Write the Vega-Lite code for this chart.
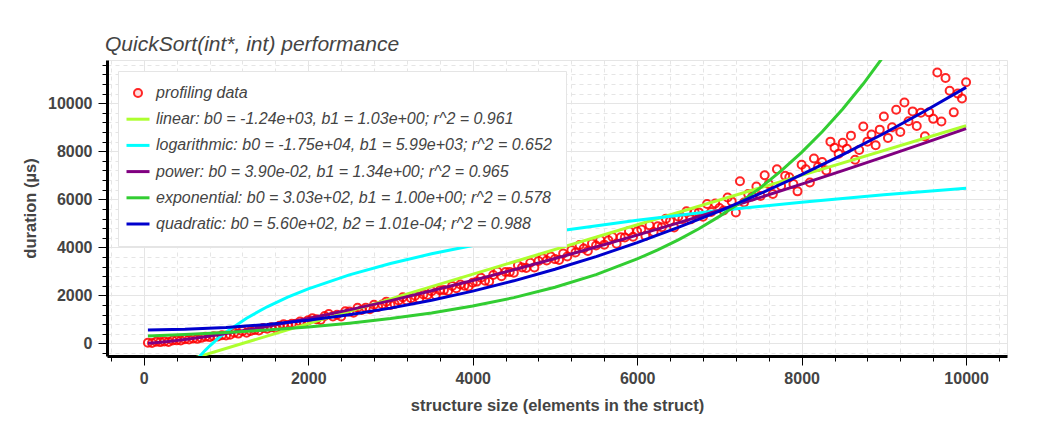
{
"$schema": "https://vega.github.io/schema/vega-lite/v6.json",
"width": 900, "height": 296,
"autosize": {"type": "none"},
"padding": {"left": 107, "top": 60, "right": 31, "bottom": 65},
"background": "white",
"config": {"view": {"stroke": "#e5e5e5", "strokeWidth": 1}, "font": "Liberation Sans"},
"title": {"text": "QuickSort(int*, int) performance", "anchor": "start", "frame": "group", "offset": 9, "dy": 24, "baseline": "alphabetic", "fontSize": 21, "fontStyle": "italic", "fontWeight": "normal", "color": "#444444", "font": "Liberation Sans", "dx": -2},
"datasets": {
"pts": [
{"x":50,"y":24},{"x":100,"y":15},{"x":150,"y":69},{"x":200,"y":54},{"x":250,"y":78},{"x":300,"y":63},{"x":350,"y":123},{"x":400,"y":126},{"x":450,"y":123},{"x":500,"y":171},
{"x":550,"y":167},{"x":600,"y":205},{"x":650,"y":189},{"x":700,"y":230},{"x":750,"y":277},{"x":800,"y":261},{"x":850,"y":302},{"x":900,"y":292},{"x":950,"y":336},{"x":1000,"y":326},
{"x":1050,"y":365},{"x":1100,"y":440},{"x":1150,"y":407},{"x":1200,"y":512},{"x":1250,"y":443},{"x":1300,"y":518},{"x":1350,"y":557},{"x":1400,"y":536},{"x":1450,"y":641},{"x":1500,"y":614},
{"x":1550,"y":677},{"x":1600,"y":632},{"x":1650,"y":731},{"x":1700,"y":794},{"x":1750,"y":767},{"x":1800,"y":818},{"x":1850,"y":815},{"x":1900,"y":914},{"x":1950,"y":869},{"x":2000,"y":968},
{"x":2050,"y":1045},{"x":2100,"y":1008},{"x":2150,"y":971},{"x":2200,"y":1138},{"x":2250,"y":1221},{"x":2300,"y":1124},{"x":2350,"y":1195},{"x":2400,"y":1122},{"x":2450,"y":1337},{"x":2500,"y":1324},
{"x":2550,"y":1278},{"x":2600,"y":1484},{"x":2650,"y":1390},{"x":2700,"y":1488},{"x":2750,"y":1418},{"x":2800,"y":1612},{"x":2850,"y":1518},{"x":2900,"y":1616},{"x":2950,"y":1738},{"x":3000,"y":1596},
{"x":3050,"y":1642},{"x":3100,"y":1786},{"x":3150,"y":1917},{"x":3200,"y":1788},{"x":3250,"y":1880},{"x":3300,"y":1985},{"x":3350,"y":1856},{"x":3400,"y":2039},{"x":3450,"y":2014},{"x":3500,"y":2171},
{"x":3550,"y":2005},{"x":3600,"y":2216},{"x":3650,"y":2219},{"x":3700,"y":2183},{"x":3750,"y":2394},{"x":3800,"y":2293},{"x":3850,"y":2452},{"x":3900,"y":2403},{"x":3950,"y":2367},{"x":4000,"y":2526},
{"x":4050,"y":2573},{"x":4100,"y":2736},{"x":4150,"y":2611},{"x":4200,"y":2576},{"x":4250,"y":2847},{"x":4300,"y":2992},{"x":4350,"y":2795},{"x":4400,"y":2976},{"x":4450,"y":2977},{"x":4500,"y":2942},
{"x":4550,"y":3249},{"x":4600,"y":3160},{"x":4650,"y":3143},{"x":4700,"y":3360},{"x":4750,"y":3163},{"x":4800,"y":3434},{"x":4850,"y":3543},{"x":4900,"y":3454},{"x":4950,"y":3617},{"x":5000,"y":3510},
{"x":5050,"y":3474},{"x":5100,"y":3744},{"x":5150,"y":3618},{"x":5200,"y":3888},{"x":5250,"y":3784},{"x":5300,"y":4098},{"x":5350,"y":3950},{"x":5400,"y":3846},{"x":5450,"y":4160},{"x":5500,"y":4078},
{"x":5550,"y":4304},{"x":5600,"y":4112},{"x":5650,"y":4294},{"x":5700,"y":4432},{"x":5750,"y":4152},{"x":5800,"y":4422},{"x":5850,"y":4406},{"x":5900,"y":4676},{"x":5950,"y":4440},{"x":6000,"y":4666},
{"x":6050,"y":4745},{"x":6100,"y":4470},{"x":6150,"y":4915},{"x":6200,"y":4640},{"x":6250,"y":4875},{"x":6300,"y":4840},{"x":6350,"y":5195},{"x":6400,"y":5100},{"x":6450,"y":4825},{"x":6500,"y":5270},
{"x":6550,"y":5175},{"x":6600,"y":5500},{"x":6650,"y":5165},{"x":6700,"y":5460},{"x":6750,"y":5455},{"x":6800,"y":5270},{"x":6850,"y":5805},{"x":6900,"y":5470},{"x":6950,"y":5825},{"x":7000,"y":5640},
{"x":7050,"y":5536},{"x":7100,"y":6076},{"x":7150,"y":5912},{"x":7200,"y":5450},{"x":7250,"y":6750},{"x":7300,"y":5868},{"x":7350,"y":6216},{"x":7400,"y":6116},{"x":7450,"y":6528},{"x":7500,"y":6140},
{"x":7550,"y":7000},{"x":7600,"y":6632},{"x":7650,"y":6222},{"x":7700,"y":7250},{"x":7750,"y":6554},{"x":7800,"y":6976},{"x":7850,"y":6918},{"x":7900,"y":6636},{"x":7950,"y":6330},{"x":8000,"y":7440},
{"x":8050,"y":7250},{"x":8100,"y":6700},{"x":8150,"y":7700},{"x":8200,"y":7350},{"x":8250,"y":7550},{"x":8300,"y":7200},{"x":8350,"y":8400},{"x":8400,"y":8150},{"x":8450,"y":7900},{"x":8500,"y":8350},
{"x":8550,"y":8100},{"x":8600,"y":8650},{"x":8650,"y":7650},{"x":8700,"y":8050},{"x":8750,"y":9030},{"x":8800,"y":8400},{"x":8850,"y":8700},{"x":8900,"y":8250},{"x":8950,"y":8900},{"x":9000,"y":9450},
{"x":9050,"y":8550},{"x":9100,"y":9000},{"x":9150,"y":9730},{"x":9200,"y":8800},{"x":9250,"y":10030},{"x":9300,"y":9250},{"x":9350,"y":9660},{"x":9400,"y":9050},{"x":9450,"y":9600},{"x":9500,"y":8620},
{"x":9550,"y":9620},{"x":9600,"y":9350},{"x":9650,"y":11280},{"x":9700,"y":9240},{"x":9750,"y":11050},{"x":9800,"y":10520},{"x":9850,"y":9620},{"x":9900,"y":10400},{"x":9950,"y":10200},{"x":10000,"y":10870}
],
"fits": [
{"s":"linear","x":50,"y":-1188.5},{"s":"linear","x":10000,"y":9060},
{"s":"logarithmic","x":50,"y":-7323},{"s":"logarithmic","x":100,"y":-5520},{"s":"logarithmic","x":200,"y":-3717},{"s":"logarithmic","x":300,"y":-2662},{"s":"logarithmic","x":400,"y":-1914},{"s":"logarithmic","x":500,"y":-1333},{"s":"logarithmic","x":600,"y":-859},{"s":"logarithmic","x":650,"y":-651},{"s":"logarithmic","x":700,"y":-458},{"s":"logarithmic","x":750,"y":-278},{"s":"logarithmic","x":800,"y":-110},{"s":"logarithmic","x":900,"y":196},{"s":"logarithmic","x":1000,"y":470},{"s":"logarithmic","x":1250,"y":1050},{"s":"logarithmic","x":1500,"y":1525},{"s":"logarithmic","x":1750,"y":1926},{"s":"logarithmic","x":2000,"y":2273},{"s":"logarithmic","x":2500,"y":2854},{"s":"logarithmic","x":3000,"y":3328},{"s":"logarithmic","x":3500,"y":3729},{"s":"logarithmic","x":4000,"y":4076},{"s":"logarithmic","x":4500,"y":4383},{"s":"logarithmic","x":5000,"y":4657},{"s":"logarithmic","x":6000,"y":5131},{"s":"logarithmic","x":7000,"y":5532},{"s":"logarithmic","x":8000,"y":5880},{"s":"logarithmic","x":9000,"y":6186},{"s":"logarithmic","x":10000,"y":6460},
{"s":"power","x":50,"y":7.4},{"s":"power","x":100,"y":18.7},{"s":"power","x":200,"y":47.3},{"s":"power","x":300,"y":81.4},{"s":"power","x":500,"y":161.5},{"s":"power","x":750,"y":278},{"s":"power","x":1000,"y":409},{"s":"power","x":1500,"y":704},{"s":"power","x":2000,"y":1035},{"s":"power","x":2500,"y":1395},{"s":"power","x":3000,"y":1782},{"s":"power","x":3500,"y":2190},{"s":"power","x":4000,"y":2619},{"s":"power","x":4500,"y":3067},{"s":"power","x":5000,"y":3532},{"s":"power","x":5500,"y":4014},{"s":"power","x":6000,"y":4510},{"s":"power","x":6500,"y":5020},{"s":"power","x":7000,"y":5545},{"s":"power","x":7500,"y":6082},{"s":"power","x":8000,"y":6631},{"s":"power","x":8500,"y":7192},{"s":"power","x":9000,"y":7765},{"s":"power","x":9500,"y":8348},{"s":"power","x":10000,"y":8942},
{"s":"exponential","x":50,"y":309},{"s":"exponential","x":500,"y":372},{"s":"exponential","x":1000,"y":456},{"s":"exponential","x":1500,"y":559},{"s":"exponential","x":2000,"y":686},{"s":"exponential","x":2500,"y":841},{"s":"exponential","x":3000,"y":1032},{"s":"exponential","x":3500,"y":1266},{"s":"exponential","x":4000,"y":1553},{"s":"exponential","x":4500,"y":1905},{"s":"exponential","x":5000,"y":2336},{"s":"exponential","x":5500,"y":2866},{"s":"exponential","x":6000,"y":3515},{"s":"exponential","x":6250,"y":3893},{"s":"exponential","x":6500,"y":4311},{"s":"exponential","x":6750,"y":4775},{"s":"exponential","x":7000,"y":5289},{"s":"exponential","x":7250,"y":5857},{"s":"exponential","x":7500,"y":6487},{"s":"exponential","x":7750,"y":7184},{"s":"exponential","x":8000,"y":7956},{"s":"exponential","x":8250,"y":8812},{"s":"exponential","x":8500,"y":9760},{"s":"exponential","x":8750,"y":10809},{"s":"exponential","x":9000,"y":11970},{"s":"exponential","x":9250,"y":13256},{"s":"exponential","x":9500,"y":14684},{"s":"exponential","x":10000,"y":18007},
{"s":"quadratic","x":50,"y":560.25},{"s":"quadratic","x":500,"y":585.25},{"s":"quadratic","x":1000,"y":661},{"s":"quadratic","x":1500,"y":787.25},{"s":"quadratic","x":2000,"y":964},{"s":"quadratic","x":2500,"y":1191.25},{"s":"quadratic","x":3000,"y":1469},{"s":"quadratic","x":3500,"y":1797.25},{"s":"quadratic","x":4000,"y":2176},{"s":"quadratic","x":4500,"y":2605.25},{"s":"quadratic","x":5000,"y":3085},{"s":"quadratic","x":5500,"y":3615.25},{"s":"quadratic","x":6000,"y":4196},{"s":"quadratic","x":6500,"y":4827.25},{"s":"quadratic","x":7000,"y":5509},{"s":"quadratic","x":7500,"y":6241.25},{"s":"quadratic","x":8000,"y":7024},{"s":"quadratic","x":8500,"y":7857.25},{"s":"quadratic","x":9000,"y":8741},{"s":"quadratic","x":9500,"y":9675.25},{"s":"quadratic","x":10000,"y":10660}
]
},
"encoding": {
  "x": {"field": "x", "type": "quantitative",
    "scale": {"domain": [-447.5, 10497.5], "nice": false, "zero": false},
    "axis": {
      "title": "structure size (elements in the struct)",
      "values": [-400,0,400,800,1200,1600,2000,2400,2800,3200,3600,4000,4400,4800,5200,5600,6000,6400,6800,7200,7600,8000,8400,8800,9200,9600,10000,10400],
      "format": "d",
      "labelExpr": "datum.value % 2000 === 0 ? datum.label : ''",
      "labelOverlap": false, "labelFlush": false, "labelBound": false,
      "grid": true, "gridColor": "#e5e5e5", "gridWidth": 1,
      "gridDash": {"condition": {"test": "datum.value % 2000 === 0", "value": []}, "value": [4, 4]},
      "tickSize": {"condition": {"test": "datum.value % 2000 === 0", "value": 9}, "value": 5},
      "tickColor": "black", "tickWidth": 1,
      "domainColor": "black", "domainWidth": 3,
      "labelFont": "Liberation Sans", "labelFontSize": 16, "labelFontWeight": "bold", "labelColor": "#444444", "labelPadding": 5,
      "titleFont": "Liberation Sans", "titleFontSize": 16.5, "titleFontWeight": "bold", "titleColor": "#444444", "titlePadding": 11
    }},
  "y": {"field": "y", "type": "quantitative",
    "scale": {"domain": [-525, 11800], "nice": false, "zero": false},
    "axis": {
      "title": "duration (µs)",
      "values": [-400,0,400,800,1200,1600,2000,2400,2800,3200,3600,4000,4400,4800,5200,5600,6000,6400,6800,7200,7600,8000,8400,8800,9200,9600,10000,10400,10800,11200,11600],
      "format": "d",
      "labelExpr": "datum.value % 2000 === 0 ? datum.label : ''",
      "labelOverlap": false, "labelFlush": false, "labelBound": false,
      "grid": true, "gridColor": "#e5e5e5", "gridWidth": 1,
      "gridDash": {"condition": {"test": "datum.value % 2000 === 0", "value": []}, "value": [4, 4]},
      "tickSize": {"condition": {"test": "datum.value % 2000 === 0", "value": 9}, "value": 5},
      "tickColor": "black", "tickWidth": 1,
      "domainColor": "black", "domainWidth": 3,
      "labelFont": "Liberation Sans", "labelFontSize": 16, "labelFontWeight": "bold", "labelColor": "#444444", "labelPadding": 6,
      "titleFont": "Liberation Sans", "titleFontSize": 16.5, "titleFontWeight": "bold", "titleColor": "#444444", "titlePadding": 9
    }}
},
"layer": [
  {
    "data": {"name": "pts"},
    "mark": {"type": "point", "shape": "circle", "filled": false, "size": 64, "strokeWidth": 2, "opacity": 0.85, "clip": true},
    "encoding": {
      "color": {"datum": "data", "type": "nominal", "title": null,
        "scale": {"domain": ["data", "linear", "logarithmic", "power", "exponential", "quadratic"], "range": ["red", "#adff2f", "cyan", "purple", "limegreen", "mediumblue"]},
        "legend": {
          "orient": "none", "legendX": 11, "legendY": 11, "title": null,
          "padding": 14, "fillColor": "white", "strokeColor": "#e5e5e5",
          "labelFont": "Liberation Sans", "labelFontSize": 16, "labelFontStyle": "italic", "labelColor": "#444444", "labelLimit": 0,
          "symbolType": "stroke", "symbolSize": 529, "symbolStrokeWidth": 3, "rowPadding": 10.2, "labelOffset": 10, "symbolOffset": -2,
          "labelExpr": "datum.value === 'data' ? 'profiling data' : datum.value === 'linear' ? 'linear: b0 = -1.24e+03, b1 = 1.03e+00; r^2 = 0.961' : datum.value === 'logarithmic' ? 'logarithmic: b0 = -1.75e+04, b1 = 5.99e+03; r^2 = 0.652' : datum.value === 'power' ? 'power: b0 = 3.90e-02, b1 = 1.34e+00; r^2 = 0.965' : datum.value === 'exponential' ? 'exponential: b0 = 3.03e+02, b1 = 1.00e+00; r^2 = 0.578' : 'quadratic: b0 = 5.60e+02, b2 = 1.01e-04; r^2 = 0.988'",
          "encoding": {"symbols": {
            "shape": {"value": {"expr": "datum.value === 'data' ? 'circle' : 'stroke'"}},
            "size": {"value": {"expr": "datum.value === 'data' ? 64 : 529"}},
            "strokeWidth": {"value": {"expr": "datum.value === 'data' ? 2 : 3"}},
            "fill": {"value": {"expr": "datum.value === 'data' ? 'rgba(255,0,0,0.15)' : 'transparent'"}},
            "opacity": {"value": {"expr": "datum.value === 'data' ? 0.85 : 1"}}
          }}
        }}
    }
  },
  {
    "data": {"name": "fits"},
    "mark": {"type": "line", "strokeWidth": 3, "clip": true},
    "encoding": {
      "color": {"field": "s", "type": "nominal", "title": null}
    }
  }
]
}
